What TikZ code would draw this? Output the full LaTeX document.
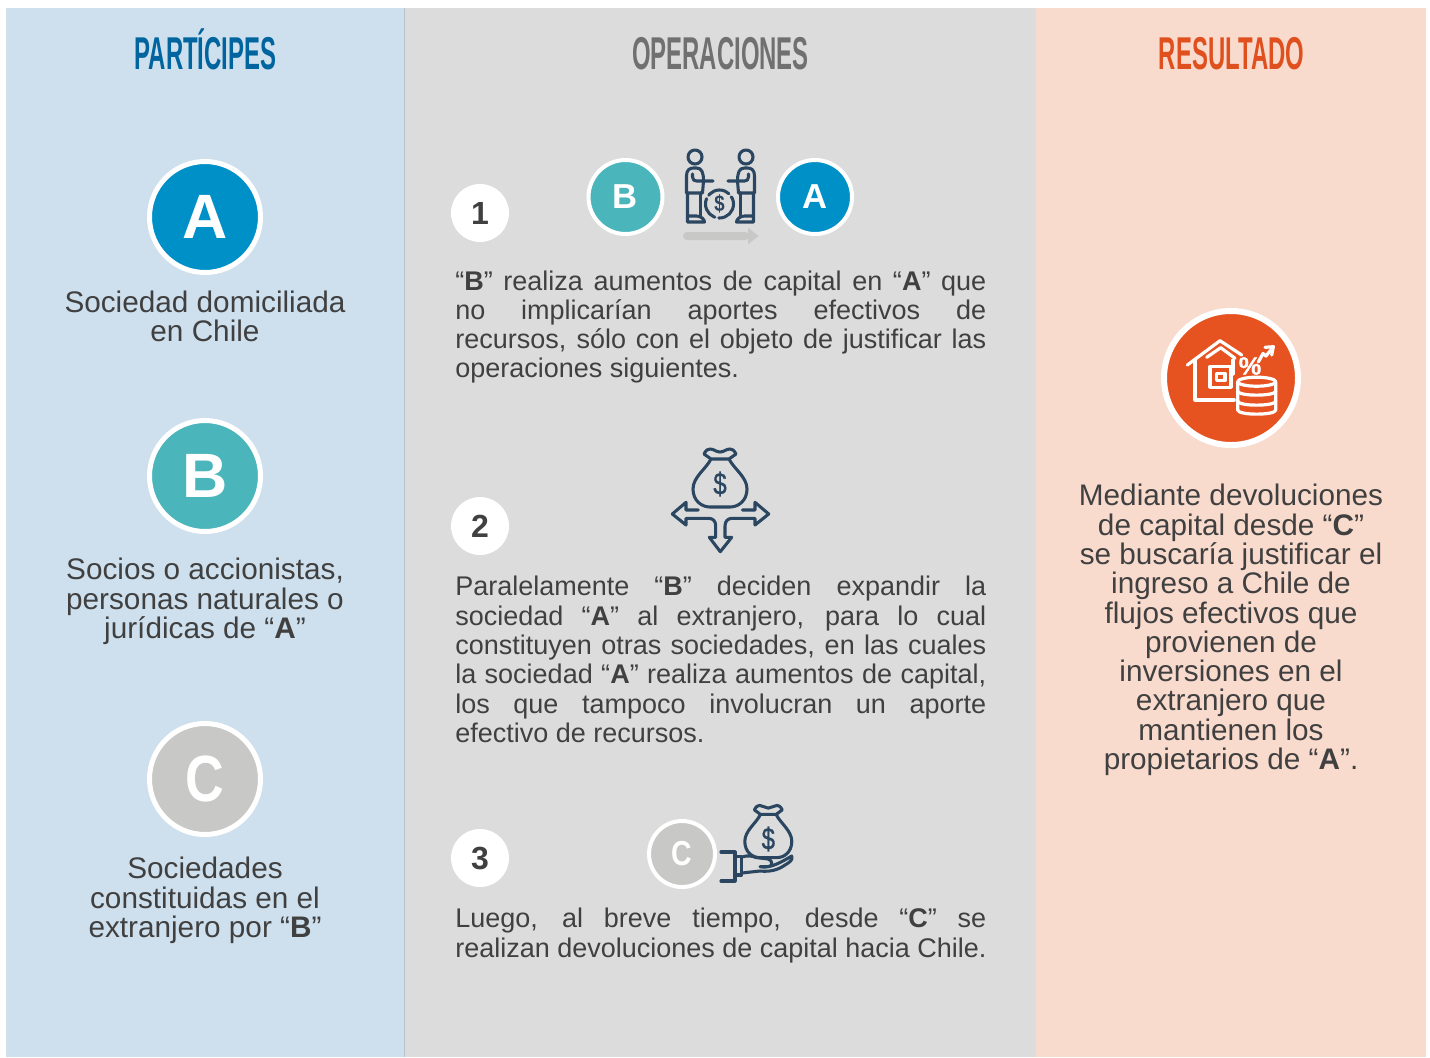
\documentclass[tikz,border=0pt]{standalone}
\usepackage{fontspec}
\setmainfont{Liberation Sans}
\newfontfamily\titlefont[FakeStretch=0.52]{Liberation Sans Bold}
\newfontfamily\condfont[FakeStretch=0.82]{Liberation Sans Bold}
\newfontfamily\dollarfont[FakeStretch=0.78,FakeBold=0.8]{Liberation Sans}
\newfontfamily\pctfont[FakeBold=0.8]{Liberation Sans Bold}
\definecolor{panelblue}{HTML}{CEE0ED}
\definecolor{panelgray}{HTML}{DCDCDC}
\definecolor{panelred}{HTML}{F9DBCE}
\definecolor{mainA}{HTML}{0090C8}
\definecolor{mainB}{HTML}{4BB5BC}
\definecolor{mainC}{HTML}{C8C8C6}
\definecolor{mainR}{HTML}{E65220}
\definecolor{iconcol}{HTML}{2B4660}
\definecolor{bodycol}{HTML}{404040}
\definecolor{titleA}{HTML}{00649F}
\definecolor{titleB}{HTML}{707070}
\definecolor{titleC}{HTML}{E0501E}
\newlength{\colw}\setlength{\colw}{398.25pt}
\newcommand{\jl}[1]{\leavevmode\hbox to \colw{\spaceskip=0pt \xspaceskip=0pt #1}}
\newcommand{\nl}[1]{\leavevmode\hbox{\spaceskip=0pt \xspaceskip=0pt #1}}
\tikzset{
  x=.75pt,y=-.75pt,
  titletext/.style={font=\titlefont\fontsize{34.5}{36}\selectfont,inner sep=0pt,anchor=base},
  ctext/.style={font=\fontsize{22.3}{21.97}\selectfont,text=bodycol,align=center,inner sep=0pt},
  jtext/.style={font=\fontsize{20.25}{21.97}\selectfont,text=bodycol,align=left,inner sep=0pt,text width=\colw,anchor=west},
  bigdisc/.style={circle,draw=white,line width=3.75pt,minimum size=83.25pt,inner sep=0pt,text=white,font=\bfseries\fontsize{47}{47}\selectfont},
  smalldisc/.style={circle,draw=white,line width=3pt,minimum size=55.5pt,inner sep=0pt,text=white,font=\bfseries\fontsize{26}{26}\selectfont},
  numdisc/.style={circle,fill=white,minimum size=43.5pt,inner sep=0pt,text=bodycol,font=\bfseries\fontsize{24}{24}\selectfont},
  iconline/.style={draw=iconcol,line width=2.3pt,line join=round,line cap=round},
  whiteline/.style={draw=white,line width=2.4pt,line join=round,line cap=round},
}
\newcommand{\moneybag}[4]{%
  \begin{scope}[shift={(#1,#2)},xscale=#3,yscale=#4]
    \draw[iconline] (-9,-24) -- (-16,-29) .. controls (-14,-33) and (-12,-34) .. (-10,-34) .. controls (-6,-34) and (-4,-31) .. (0,-31) .. controls (4,-31) and (6,-34) .. (10,-34) .. controls (12,-34) and (14,-33) .. (16,-29) -- (9,-24) -- cycle;
    \draw[iconline] (-9,-24) .. controls (-14,-14) and (-27,-6) .. (-27,6) .. controls (-27,18) and (-18,24) .. (-10,24) -- (10,24) .. controls (18,24) and (27,18) .. (27,6) .. controls (27,-6) and (14,-14) .. (9,-24);
  \end{scope}}
\newcommand{\person}{%
  \draw[iconline] (-25.5,157) circle (7);
  \draw[iconline] (-34,193) -- (-34,176) .. controls (-34,170) and (-31,168) .. (-27,168) -- (-24,168) .. controls (-19,168) and (-17,172) .. (-17,181) -- (-18,193) -- cycle;
  \draw[iconline] (-28,174) -- (-28,177) .. controls (-28,180) and (-26,181) .. (-24,181) -- (-7.5,181);
  \draw[iconline] (-33,193) -- (-33,222) -- (-16,222) .. controls (-16,219) and (-20,216) .. (-24,216) -- (-33,216);
  \draw[iconline] (-20,193) -- (-20,216);
}
\begin{document}
\begin{tikzpicture}
\useasboundingbox (0,0) rectangle (1430,1057);
% panels
\fill[panelblue] (6,8) rectangle (404,1057);
\fill[panelgray] (405,8) rectangle (1036,1057);
\fill[panelred] (1036,8) rectangle (1426,1057);
\draw[draw=panelblue!70!gray,line width=.75pt] (404.5,8) -- (404.5,1057);
% titles
\node[titletext,text=titleA] (tp) at (205.5,69.5) {PARTÍCIPES};
\node[titletext,text=titleB] (to) at (720.5,69.5) {OPERACIONES};
\node[titletext,text=titleC] (tr) at (1231.5,69.5) {RESULTADO};
% left column
\node[bigdisc,fill=mainA] (dA) at (205,217) {A};
\node[ctext] (tA) at (205,316.5) {Sociedad domiciliada\\en Chile};
\node[bigdisc,fill=mainB] (dB) at (205,476) {B};
\node[ctext] (tB) at (205,601.5) {Socios o accionistas,\\personas naturales o\\jurídicas de “\textbf{A}”};
\node[bigdisc,fill=mainC,font=\condfont\fontsize{49}{49}\selectfont] (dC) at (205,779) {C};
\node[ctext] (tC) at (205,900.5) {Sociedades\\constituidas en el\\extranjero por “\textbf{B}”};
% step 1
\node[numdisc] (n1) at (480,213) {1};
\node[smalldisc,fill=mainB] (sB) at (625.5,197) {B};
\node[smalldisc,fill=mainA] (sA) at (815,197) {A};
\begin{scope}[shift={(720.5,0)}]\person\end{scope}
\begin{scope}[shift={(720.5,0)},xscale=-1]\person\end{scope}
\draw[iconline,dash pattern=on 17pt off 3pt] (719.5,204) circle (14);
\node[inner sep=0pt,text=iconcol,font=\condfont\fontsize{17}{17}\selectfont] (d1) at (719.5,204) {\$};
\fill[mainC,rounded corners=3pt] (683,232) rectangle (749,240);
\fill[mainC] (748,227.5) -- (758.5,236) -- (748,244.5) -- cycle;
\node[jtext] (t1) at (455,327) {\jl{“\textbf{B}” realiza aumentos de capital en “\textbf{A}” que}\\\jl{no implicarían aportes efectivos de}\\\jl{recursos, sólo con el objeto de justificar las}\\\nl{operaciones siguientes.}};
% step 2
\node[numdisc] (n2) at (480,526) {2};
\moneybag{720}{483}{1}{1}
\node[inner sep=0pt,text=iconcol,font=\dollarfont\fontsize{23}{23}\selectfont] (d2) at (720,484) {\$};
\draw[iconline] (698.3,510) -- (686,510) -- (686,502.3) -- (672.3,514) -- (686,525) -- (686,518.3) -- (708.3,518.3) .. controls (713,518.3) and (715.7,521) .. (715.7,526) -- (715.7,537.3) -- (709.3,537.3) -- (720.3,551.7) -- (731.7,537.3) -- (725,537.3) -- (725,526) .. controls (725,521) and (728,518.3) .. (732.3,518.3) -- (755,518.3) -- (755,525) -- (768.7,514) -- (755,502.3) -- (755,510) -- (742.3,510);
\node[jtext] (t2) at (455,659.5) {\jl{Paralelamente “\textbf{B}” deciden expandir la}\\\jl{sociedad “\textbf{A}” al extranjero, para lo cual}\\\jl{constituyen otras sociedades, en las cuales}\\\jl{la sociedad “\textbf{A}” realiza aumentos de capital,}\\\jl{los que tampoco involucran un aporte}\\\nl{efectivo de recursos.}};
% step 3
\node[numdisc] (n3) at (480,858) {3};
\node[circle,draw=white,line width=3pt,minimum size=49.5pt,inner sep=0pt,fill=mainC,text=white,font=\condfont\fontsize{26}{26}\selectfont] (sC) at (682,854) {C};
\moneybag{768.3}{836}{.87}{.9}
\node[inner sep=0pt,text=iconcol,font=\dollarfont\fontsize{23}{23}\selectfont] (d3) at (768.3,839) {\$};
\draw[iconline] (721,852) -- (735,852) -- (735,881) -- (721,881);
\draw[iconline] (735,856.7) -- (741.7,856.7) -- (741.7,875) -- (735,875);
\draw[iconline] (741.7,857) .. controls (748,855) and (752,856) .. (756,857.5) -- (768,859) .. controls (773,860) and (773,866.7) .. (768,866.7) -- (760,866.7) .. controls (768,868) and (775,866) .. (791.7,856) .. controls (793,860) and (790,862) .. (785,865) .. controls (778,870) and (770,872) .. (760,871) -- (741.7,873);
\node[jtext] (t3) at (455,935.5) {\jl{Luego, al breve tiempo, desde “\textbf{C}” se}\\\nl{realizan devoluciones de capital hacia Chile.}};
% result
\node[circle,draw=white,line width=4.5pt,minimum size=100.5pt,inner sep=0pt,fill=mainR] (dR) at (1231,378) {};
\draw[whiteline] (1187.3,365) -- (1220,340.7) -- (1241.7,355);
\draw[whiteline] (1206.7,357.3) -- (1220.7,347.7) -- (1235,358.3);
\draw[whiteline] (1195,360) -- (1195,400) -- (1234.3,400);
\draw[whiteline] (1233,360) -- (1233,374);
\draw[whiteline] (1210,366.7) rectangle (1231,387.3);
\draw[whiteline] (1216.7,373.3) rectangle (1225,380.7);
\node[inner sep=0pt,text=white,font=\pctfont\fontsize{19}{19}\selectfont] (pct) at (1250,366) {\%};
\draw[whiteline] (1258.3,362) -- (1263,353.5) -- (1266,356) -- (1273.3,346.7);
\draw[whiteline] (1265,347.3) -- (1273.3,346.7) -- (1271.7,355);
\draw[whiteline] (1256.7,381.7) ellipse (19 and 4.5);
\draw[whiteline] (1237.7,381.7) -- (1237.7,391) .. controls (1237.7,396.5) and (1275.7,396.5) .. (1275.7,391) -- (1275.7,381.7);
\draw[whiteline] (1237.7,391) -- (1237.7,401) .. controls (1237.7,406.5) and (1275.7,406.5) .. (1275.7,401) -- (1275.7,391);
\draw[whiteline] (1237.7,401) -- (1237.7,410) .. controls (1237.7,415.5) and (1275.7,415.5) .. (1275.7,410) -- (1275.7,401);
\node[ctext] (tR) at (1231,630) {Mediante devoluciones\\de capital desde “\textbf{C}”\\se buscaría justificar el\\ingreso a Chile de\\flujos efectivos que\\provienen de\\inversiones en el\\extranjero que\\mantienen los\\propietarios de “\textbf{A}”.};
\end{tikzpicture}
\end{document}
